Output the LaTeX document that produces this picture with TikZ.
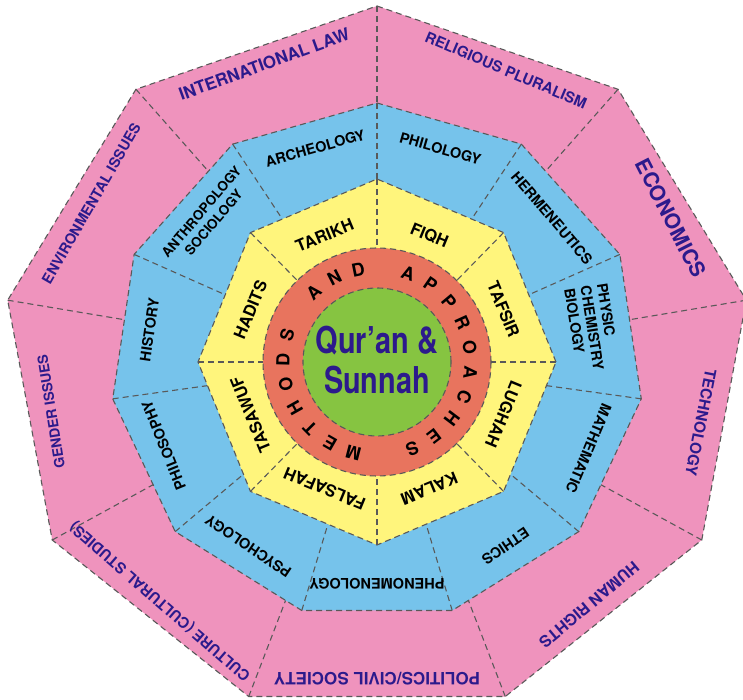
\documentclass[tikz,border=0pt]{standalone}
\usepackage{fontspec}
\setmainfont{TeX Gyre Heros}
\newfontfamily\narrowfont{TeX Gyre Heros}[FakeStretch=0.78]
\definecolor{ringpink}{HTML}{EF93BD}
\definecolor{ringblue}{HTML}{76C3EB}
\definecolor{ringyellow}{HTML}{FFF57C}
\definecolor{ringred}{HTML}{E8745E}
\definecolor{ringgreen}{HTML}{86C441}
\definecolor{qnavy}{HTML}{2C1A8C}
\tikzset{
  cutline/.style={draw=black!65, line width=1.1pt, dash pattern=on 6pt off 4pt},
  outlab/.style={text=qnavy, inner sep=0pt},
  midlab/.style={font=\bfseries\fontsize{14.5}{16.5}\selectfont, inner sep=0pt},
  inlab/.style={font=\bfseries\fontsize{16.5}{18}\selectfont, inner sep=0pt},
  redlab/.style={font=\bfseries\fontsize{18}{18}\selectfont, inner sep=0pt}
}
\begin{document}
\begin{tikzpicture}[x=1pt, y=1pt]
\clip (-377,-338) rectangle (366,362);
\filldraw[cutline, fill=ringpink] (90:375 and 356) \foreach \a in {50,10,...,-230}{ -- (\a:375 and 356)} -- cycle;
\foreach \a in {90,50,...,-230} \draw[cutline] (\a:375 and 356) -- (0,0);
\filldraw[cutline, fill=ringblue] (90:267 and 259) \foreach \k in {1,...,10}{ -- ({90-360/11*\k}:267 and 259)} -- cycle;
\foreach \k in {0,...,10} \draw[cutline] ({90-360/11*\k}:267 and 259) -- (0,0);
\filldraw[cutline, fill=ringyellow] (0:179 and 183) \foreach \a in {45,90,...,315}{ -- (\a:179 and 183)} -- cycle;
\foreach \a in {0,45,...,315} \draw[cutline] (\a:179 and 183) -- (0,0);
\filldraw[cutline, fill=ringred] (0,0) circle (114);
\filldraw[cutline, fill=ringgreen] (0,0) circle (74);

\foreach \a/\t/\s [count=\i] in {110/INTERNATIONAL LAW/17, 67/RELIGIOUS PLURALISM/15, 27/ECONOMICS/21,
  -11/TECHNOLOGY/15.5, -50/HUMAN RIGHTS/16, -90/POLITICS\slash CIVIL SOCIETY/17,
  -131/CULTURE (CULTURAL STUDIES)/15, -171/GENDER ISSUES/14, 150/ENVIRONMENTAL ISSUES/14.5}
  \node[outlab, font=\bfseries\fontsize{\s}{\s}\selectfont, rotate=\a-90] (pk\i) at (\a:330 and 317) {\t};

\foreach \a/\t [count=\i] in {105.6/ARCHEOLOGY, 74/PHILOLOGY, 40.5/HERMENEUTICS, -23/MATHEMATIC,
  -56/ETHICS, -90/PHENOMENOLOGY, -124/PSYCHOLOGY, -158/PHILOSOPHY, 171.7/HISTORY}
  \node[midlab, rotate=\a-90] (bl\i) at (\a:230 and 222) {\t};
\node[midlab, align=left, rotate=-81] (science) at (9:218) {PHYSIC\\CHEMISTRY\\BIOLOGY};
\node[midlab, align=center, font=\bfseries\fontsize{13.5}{16}\selectfont, rotate=49.5] (anthro) at (139.5:223) {ANTHROPOLOGY\\SOCIOLOGY};

\foreach \a/\t [count=\i] in {112.5/TARIKH, 67.5/FIQH, 22.5/TAFSIR, -22.5/LUGHAH,
  -67.5/KALAM, -112.5/FALSAFAH, -157.5/TASAWUF, 157.5/HADITS}
  \node[inlab, rotate=\a-90] (yl\i) at (\a:137) {\t};

\foreach \ch [count=\i from 0] in {M,E,T,H,O,D,S,{},A,N,D,{},A,P,P,R,O,A,C,H,E,S}
  \node[redlab, rotate={-194.5-15.4*\i}] (rl\i) at ({-104.5-15.4*\i}:94) {\ch};

\node[text=qnavy, font=\narrowfont\bfseries\fontsize{37}{40}\selectfont, align=center, inner sep=0pt] (core) at (0,2) {Qur’an \&\\Sunnah};
\end{tikzpicture}
\end{document}
